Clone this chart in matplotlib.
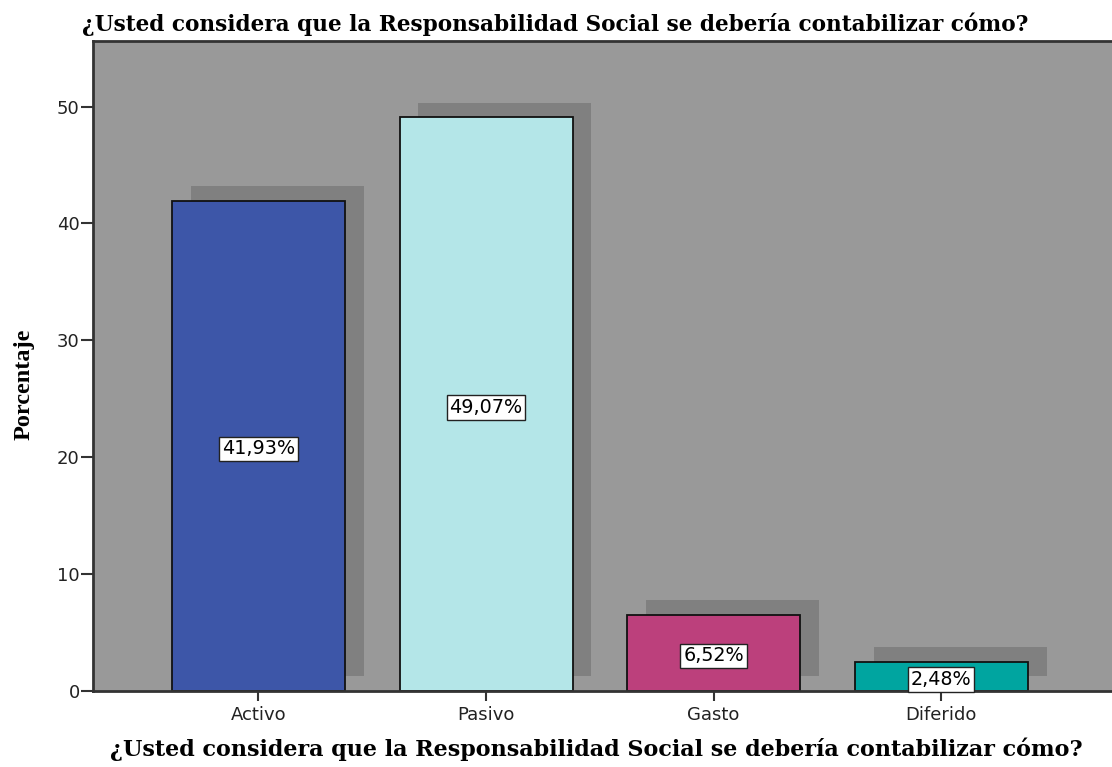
import matplotlib
matplotlib.use("Agg")
import matplotlib.pyplot as plt

categories = ["Activo", "Pasivo", "Gasto", "Diferido"]
percentages = [41.93, 49.07, 6.52, 2.48]
bar_labels = ["41,93%", "49,07%", "6,52%", "2,48%"]
bar_colors = ["#3d56a8", "#b4e6e8", "#bc407c", "#00a5a0"]

question = "¿Usted considera que la Responsabilidad Social se debería contabilizar cómo?"

BAR_WIDTH = 0.76
SHADOW_DX = 0.083
SHADOW_DY = 1.25

fig = plt.figure(figsize=(11.12, 7.67), dpi=100)
ax = fig.add_axes([0.0836, 0.099, 0.9164, 0.8475])
ax.set_facecolor("#999999")

x = list(range(len(categories)))

# drop shadows behind the bars
ax.bar([i + SHADOW_DX for i in x], percentages, width=BAR_WIDTH, bottom=SHADOW_DY,
       color="#808080", linewidth=0, zorder=1)
ax.bar(x, percentages, width=BAR_WIDTH, color=bar_colors,
       edgecolor="#111111", linewidth=1.3, zorder=2)

for i, (val, lab) in enumerate(zip(percentages, bar_labels)):
    ax.text(i, val / 2 - 0.25, lab, ha="center", va="center", zorder=3,
            family="DejaVu Sans", fontsize=13.8,
            bbox=dict(boxstyle="square,pad=0.15", facecolor="white",
                      edgecolor="#222222", linewidth=1))

ax.set_xlim(-0.727, 3.75)
ax.set_ylim(0, 55.6)
ax.set_yticks([0, 10, 20, 30, 40, 50])
ax.set_xticks(x)
ax.set_xticklabels(categories)

for lbl in ax.get_xticklabels() + ax.get_yticklabels():
    lbl.set_family("DejaVu Sans")
    lbl.set_fontsize(13)
    lbl.set_color("#222222")

ax.tick_params(axis="both", direction="out", width=1.5, color="#333333")
ax.tick_params(axis="x", length=7, pad=4)
ax.tick_params(axis="y", length=9, pad=0.5)

for side in ["left", "bottom", "top"]:
    ax.spines[side].set_color("#333333")
    ax.spines[side].set_linewidth(2)
ax.spines["right"].set_visible(False)

ax.set_title(question, family="DejaVu Serif", fontweight="bold", fontsize=15.6, pad=7,
             x=0.454)
ax.set_xlabel(question, family="DejaVu Serif", fontweight="bold", fontsize=16)
ax.xaxis.set_label_coords(0.494, -0.072)
ax.set_ylabel("Porcentaje", family="Liberation Serif", fontweight="bold", fontsize=17.5)
ax.yaxis.set_label_coords(-0.057, 0.472)

fig.savefig("out.png", dpi=100)
